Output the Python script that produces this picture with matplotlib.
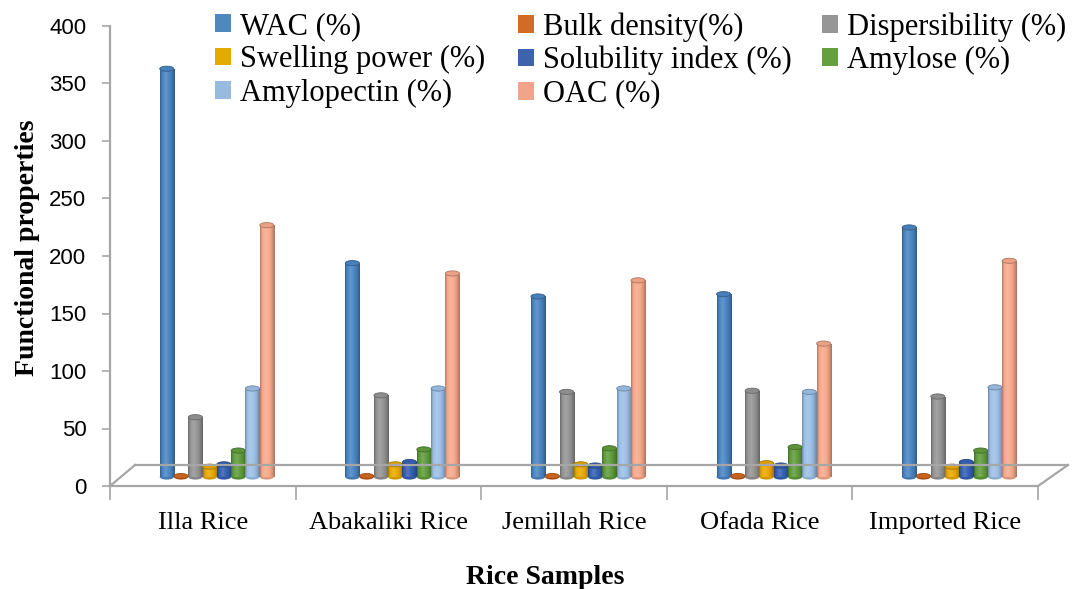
import numpy as np
import matplotlib
matplotlib.use("Agg")
import matplotlib.pyplot as plt
import matplotlib.colors as mcolors
from matplotlib.patches import Ellipse, Patch
from matplotlib.lines import Line2D
from matplotlib.transforms import ScaledTranslation

samples = ["Illa Rice", "Abakaliki Rice", "Jemillah Rice", "Ofada Rice", "Imported Rice"]

series = ["WAC (%)", "Bulk density(%)", "Dispersibility (%)", "Swelling power (%)",
          "Solubility index (%)", "Amylose (%)", "Amylopectin (%)", "OAC (%)"]

wac = [355, 186, 157, 159, 217]
bulk_density = [0.8, 0.8, 0.8, 0.8, 0.8]
dispersibility = [52, 71, 74, 75, 70]
swelling_power = [9, 11, 11, 12, 9]
solubility_index = [11, 13, 10, 10, 13]
amylose = [23, 24, 25, 26, 23]
amylopectin = [77, 77, 77, 74, 78]
oac = [219, 177, 171, 116, 188]

values = [wac, bulk_density, dispersibility, swelling_power,
          solubility_index, amylose, amylopectin, oac]

colors = ["#4a86c3", "#d4681f", "#949494", "#e8a900",
          "#3561b3", "#609c3c", "#9cc0e6", "#f7a98b"]
legend_colors = ["#4f88bf", "#d26b26", "#969696", "#e5a900",
                 "#3b64ad", "#63a03f", "#98badf", "#f0a58a"]

W, H = 1075, 589
fig = plt.figure(figsize=(W / 100, H / 100), dpi=100)
ax = fig.add_axes([110 / W, (H - 486) / H, 928 / W, 460 / H])
ax.set_xlim(-0.5, 4.5)
ax.set_ylim(0, 400)

grey = "#a6a6a6"
for side in ["top", "right"]:
    ax.spines[side].set_visible(False)
ax.spines["left"].set_color(grey)
ax.spines["left"].set_linewidth(1.6)
ax.spines["bottom"].set_color(grey)
ax.spines["bottom"].set_linewidth(1.6)

ax.set_yticks(np.arange(0, 401, 50))
ax.tick_params(axis="y", direction="out", length=6, width=1.2, color=grey, pad=11,
               labelsize=16)
for t in ax.get_yticklabels():
    t.set_fontfamily("Liberation Sans")

ax.set_xticks(np.arange(-0.5, 4.6, 1.0))
ax.set_xticklabels([])
ax.tick_params(axis="x", which="major", direction="out", length=10, width=1.2, color=grey)
ax.set_xticks(np.arange(len(samples)), minor=True)
ax.set_xticklabels(samples, minor=True, fontfamily="Liberation Serif", fontsize=19)
ax.tick_params(axis="x", which="minor", length=0, pad=19)

# 3D floor (perspective depth of the back edge, in pixels)
fig.canvas.draw()
def px(p):
    return ax.transData.transform(p)
fl = px((-0.5, 0))
fr = px((4.5, 0))
bl = fl + np.array([25, 21])
br = fr + np.array([30, 21])
for a, b in [(fl, bl), (bl, br), (br, fr)]:
    fig.add_artist(Line2D([a[0] / W, b[0] / W], [a[1] / H, b[1] / H],
                          transform=fig.transFigure, color=grey, lw=1.6, zorder=1))

# bars stand mid-way into the floor
bar_trans = ax.transData + ScaledTranslation(0.14, 0.09, fig.dpi_scale_trans)

n = len(series)
step = 0.077
bw = 0.076
cap = 4.5
x = np.arange(len(samples))

def shade(c, f):
    c = np.array(mcolors.to_rgb(c))
    if f >= 0:
        return c + (1 - c) * f
    return c * (1 + f)

tt = np.linspace(0, 1, 64)
ff = np.interp(tt, [0, 0.12, 0.38, 0.8, 1], [-0.3, -0.04, 0.15, -0.1, -0.32])

for j in range(n):
    xs = x + (j - (n - 1) / 2) * step
    bars = ax.bar(xs, values[j], width=bw, color=colors[j], edgecolor="none",
                  transform=bar_trans, zorder=3)
    grad = np.array([[shade(colors[j], f) for f in ff]])
    for b, xc, v in zip(bars, xs, values[j]):
        im = ax.imshow(grad, aspect="auto", extent=(xc - bw / 2, xc + bw / 2, 0, v),
                       transform=bar_trans, zorder=3.1, interpolation="bilinear")
        im.set_clip_path(b)
        ax.add_patch(Ellipse((xc, 0), bw, cap, transform=bar_trans,
                             facecolor=shade(colors[j], -0.1), edgecolor="none", zorder=3))
        ax.add_patch(Ellipse((xc, v), bw, cap, transform=bar_trans,
                             facecolor=shade(colors[j], -0.05),
                             edgecolor=shade(colors[j], -0.3), lw=0.6, zorder=3.2))
ax.set_xlim(-0.5, 4.5)
ax.set_ylim(0, 400)

# legend, three equal-width columns
handles = [Patch(facecolor=c, edgecolor="none") for c in legend_colors]
col_x = [215, 518, 822]
for k in range(3):
    idx = list(range(k, n, 3))
    leg = fig.legend([handles[i] for i in idx], [series[i] for i in idx],
                     loc="upper left", bbox_to_anchor=(col_x[k] / W, 1 - 12 / H),
                     frameon=False, prop={"family": "Liberation Serif", "size": 22},
                     handlelength=0.52, handleheight=0.52, handletextpad=0.3,
                     labelspacing=0.14, borderaxespad=0, borderpad=0)

fig.text(28 / W, 1 - 248 / H, "Functional properties", rotation=90, ha="center",
         va="center", fontfamily="Liberation Serif", fontweight="bold", fontsize=20)
fig.text(545 / W, 1 - 578 / H, "Rice Samples", ha="center", va="center",
         fontfamily="Liberation Serif", fontweight="bold", fontsize=20)

fig.savefig("out.png", dpi=100)
